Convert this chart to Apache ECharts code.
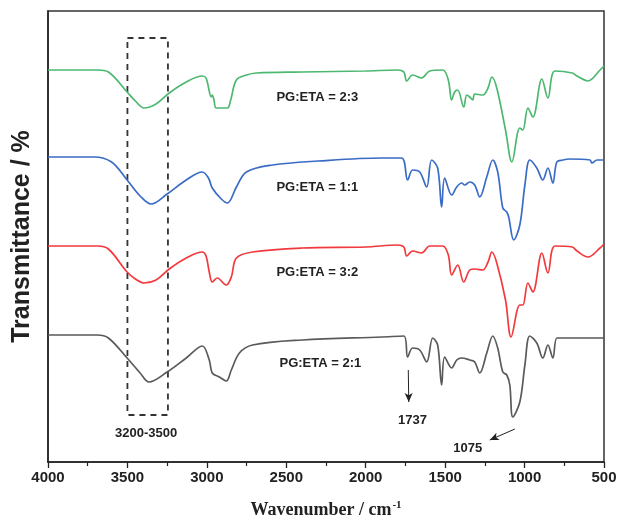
<!DOCTYPE html>
<html>
<head>
<meta charset="utf-8">
<script src="https://cdn.jsdelivr.net/npm/echarts@6/dist/echarts.min.js"></script>
<style>
  html, body { margin: 0; padding: 0; background: #fff; }
  #main { width: 626px; height: 525px; }
</style>
</head>
<body>
<div id="main"></div>
<script>
// wavenumbers (cm-1) and transmittance (a.u., offset)
var wnGreen = [4000, 3691, 3620, 3502, 3450, 3395, 3320, 3237, 3130, 3029, 3005, 2972, 2966, 2955, 2941, 2871, 2850, 2814, 2750, 2688, 2400, 2000, 1800, 1760, 1742, 1705, 1648, 1597, 1515, 1480, 1459, 1440, 1421, 1383, 1364, 1345, 1326, 1314, 1263, 1230, 1206, 1175, 1120, 1080, 1030, 1011, 979, 948, 891, 853, 809, 700, 670, 601, 525, 500]
var tGreen = [392, 392, 390, 370, 361, 354, 358, 369, 380, 386, 384, 365, 367, 362, 354, 354, 362, 382, 387, 389, 390, 391, 392, 390, 381, 387, 384, 391, 392, 382, 362, 370, 372, 355, 367, 365, 362, 368, 367, 374, 385, 374, 332, 300, 334, 332, 354, 345, 383, 364, 391, 389, 386, 381, 392, 396]

var wnBlue = [4000, 3710, 3600, 3502, 3420, 3350, 3250, 3130, 3029, 2990, 2966, 2909, 2871, 2814, 2751, 2587, 2300, 1900, 1774, 1736, 1705, 1660, 1616, 1585, 1547, 1522, 1503, 1459, 1427, 1396, 1377, 1345, 1314, 1282, 1238, 1200, 1169, 1137, 1112, 1100, 1068, 1030, 998, 967, 923, 885, 853, 822, 797, 759, 715, 588, 576, 544, 500]
var tBlue = [305, 305, 300, 282, 266, 258, 268, 282, 290, 284, 274, 263, 259, 275, 290, 297, 301, 304, 304, 282, 292, 290, 275, 302, 294, 255, 284, 267, 275, 279, 277, 280, 277, 265, 285, 302, 290, 254, 250, 245, 222, 237, 277, 302, 294, 282, 294, 279, 300, 302, 303, 302, 299, 302, 302]

var wnRed = [4000, 3691, 3620, 3502, 3450, 3395, 3320, 3237, 3130, 3029, 3005, 2985, 2966, 2935, 2878, 2846, 2814, 2713, 2400, 2000, 1800, 1760, 1742, 1705, 1648, 1597, 1515, 1480, 1459, 1421, 1383, 1345, 1314, 1263, 1230, 1206, 1175, 1120, 1085, 1030, 1011, 979, 948, 891, 853, 809, 700, 670, 601, 525, 500]
var tRed = [216, 216, 213, 190, 183, 179, 182, 193, 204, 210, 206, 190, 180, 184, 177, 185, 204, 210, 214, 215, 217, 215, 206, 211, 209, 216, 216, 207, 187, 197, 180, 192, 193, 192, 200, 210, 199, 162, 125, 157, 157, 179, 170, 209, 189, 216, 215, 211, 205, 214, 218]

var wnGray = [4000, 3691, 3620, 3502, 3420, 3365, 3250, 3130, 3029, 2985, 2966, 2921, 2878, 2846, 2795, 2713, 2400, 1900, 1760, 1736, 1705, 1660, 1616, 1578, 1547, 1522, 1503, 1459, 1427, 1396, 1345, 1314, 1282, 1238, 1200, 1169, 1137, 1112, 1093, 1074, 1030, 998, 967, 923, 885, 853, 822, 797, 759, 500]
var tGray = [127, 127, 124, 104, 89, 80, 90, 104, 116, 102, 89, 85, 81, 92, 109, 117, 122, 125, 126, 105, 114, 112, 100, 124, 117, 77, 105, 94, 102, 104, 102, 100, 89, 109, 126, 114, 90, 87, 77, 45, 60, 97, 126, 119, 104, 117, 104, 124, 124, 124]

var seriesNames = ['PG:ETA = 2:3', 'PG:ETA = 1:1', 'PG:ETA = 3:2', 'PG:ETA = 2:1']
var seriesColors = ['#4cb870', '#3a6cc6', '#f2393d', '#5a5a5a']
var xTicks = { min: 500, max: 4000, step: 500 }

function pairs(xs, ys) {
  var out = []
  for (var i = 0; i < xs.length; i++) out.push([xs[i], ys[i]])
  return out
}

var myChart = echarts.init(document.getElementById('main'))

var labelStyle = { fontFamily: 'Liberation Sans', fontWeight: 'bold', fontSize: 13, color: '#222' }

function textPoint(text, wn, v, align) {
  return {
    coord: [wn, v],
    symbol: 'circle',
    symbolSize: 0,
    label: Object.assign({ show: true, position: 'inside', formatter: text, align: align || 'center' }, labelStyle)
  }
}

var lineData = [pairs(wnGreen, tGreen), pairs(wnBlue, tBlue), pairs(wnRed, tRed), pairs(wnGray, tGray)]
var series = lineData.map(function (d, i) {
  return {
    name: seriesNames[i],
    type: 'line',
    data: d,
    smooth: 0.35,
    symbol: 'none',
    lineStyle: { color: seriesColors[i], width: 1.7 },
    z: 3
  }
})

// annotations: dashed box, arrows and texts
series.push({
  type: 'line',
  data: [],
  markArea: {
    silent: true,
    itemStyle: { color: 'rgba(0,0,0,0)', borderColor: '#333', borderWidth: 1.8, borderType: [6, 5] },
    data: [[{ coord: [3500, 424] }, { coord: [3245, 47] }]]
  },
  markLine: {
    silent: true,
    symbol: ['none', 'arrow'],
    symbolSize: [6, 9],
    lineStyle: { color: '#222', width: 1, type: 'solid' },
    label: { show: false },
    data: [
      [{ coord: [1732, 92] }, { coord: [1729, 60] }],
      [{ coord: [1061, 33] }, { coord: [1219, 22] }]
    ]
  },
  markPoint: {
    silent: true,
    data: [
      textPoint('3200-3500', 3382, 29),
      textPoint(seriesNames[0], 2562, 365, 'left'),
      textPoint(seriesNames[1], 2562, 275, 'left'),
      textPoint(seriesNames[2], 2562, 190, 'left'),
      textPoint(seriesNames[3], 2543, 99, 'left'),
      textPoint('1737', 1705, 42),
      textPoint('1075', 1358, 14)
    ]
  }
})

var option = {
  animation: false,
  grid: {
    left: 48, right: 22, top: 11, bottom: 63,
    show: true, borderColor: '#333', borderWidth: 1.5
  },
  xAxis: {
    type: 'value',
    inverse: true,
    min: xTicks.min,
    max: xTicks.max,
    interval: xTicks.step,
    name: '{a|Wavenumber / cm}{s|-1}',
    nameLocation: 'middle',
    nameGap: 38,
    nameTextStyle: {
      rich: {
        a: { fontFamily: 'Liberation Serif', fontWeight: 'bold', fontSize: 18, color: '#222' },
        s: { fontFamily: 'Liberation Serif', fontWeight: 'bold', fontSize: 11, color: '#222', verticalAlign: 'top', padding: [0, 0, 10, 1] }
      }
    },
    axisLine: { show: true, onZero: false, lineStyle: { color: '#222', width: 1.5 } },
    axisTick: { show: true, inside: false, length: 6, lineStyle: { color: '#222', width: 1.3 } },
    minorTick: { show: true, splitNumber: 2, length: 4, lineStyle: { color: '#222', width: 1.2 } },
    axisLabel: {
      fontFamily: 'Liberation Sans', fontWeight: 'bold', fontSize: 15, color: '#222', margin: 8,
      formatter: function (v) { return String(v) }
    },
    splitLine: { show: false }
  },
  yAxis: {
    type: 'value',
    min: 0,
    max: 451,
    name: 'Transmittance / %',
    nameLocation: 'middle',
    nameGap: 13,
    nameTextStyle: { fontFamily: 'Liberation Sans', fontWeight: 'bold', fontSize: 25, color: '#222' },
    axisLine: { show: true, lineStyle: { color: '#222', width: 1.5 } },
    axisTick: { show: false },
    axisLabel: { show: false },
    splitLine: { show: false }
  },
  series: series
}

myChart.setOption(option)
</script>
</body>
</html>
